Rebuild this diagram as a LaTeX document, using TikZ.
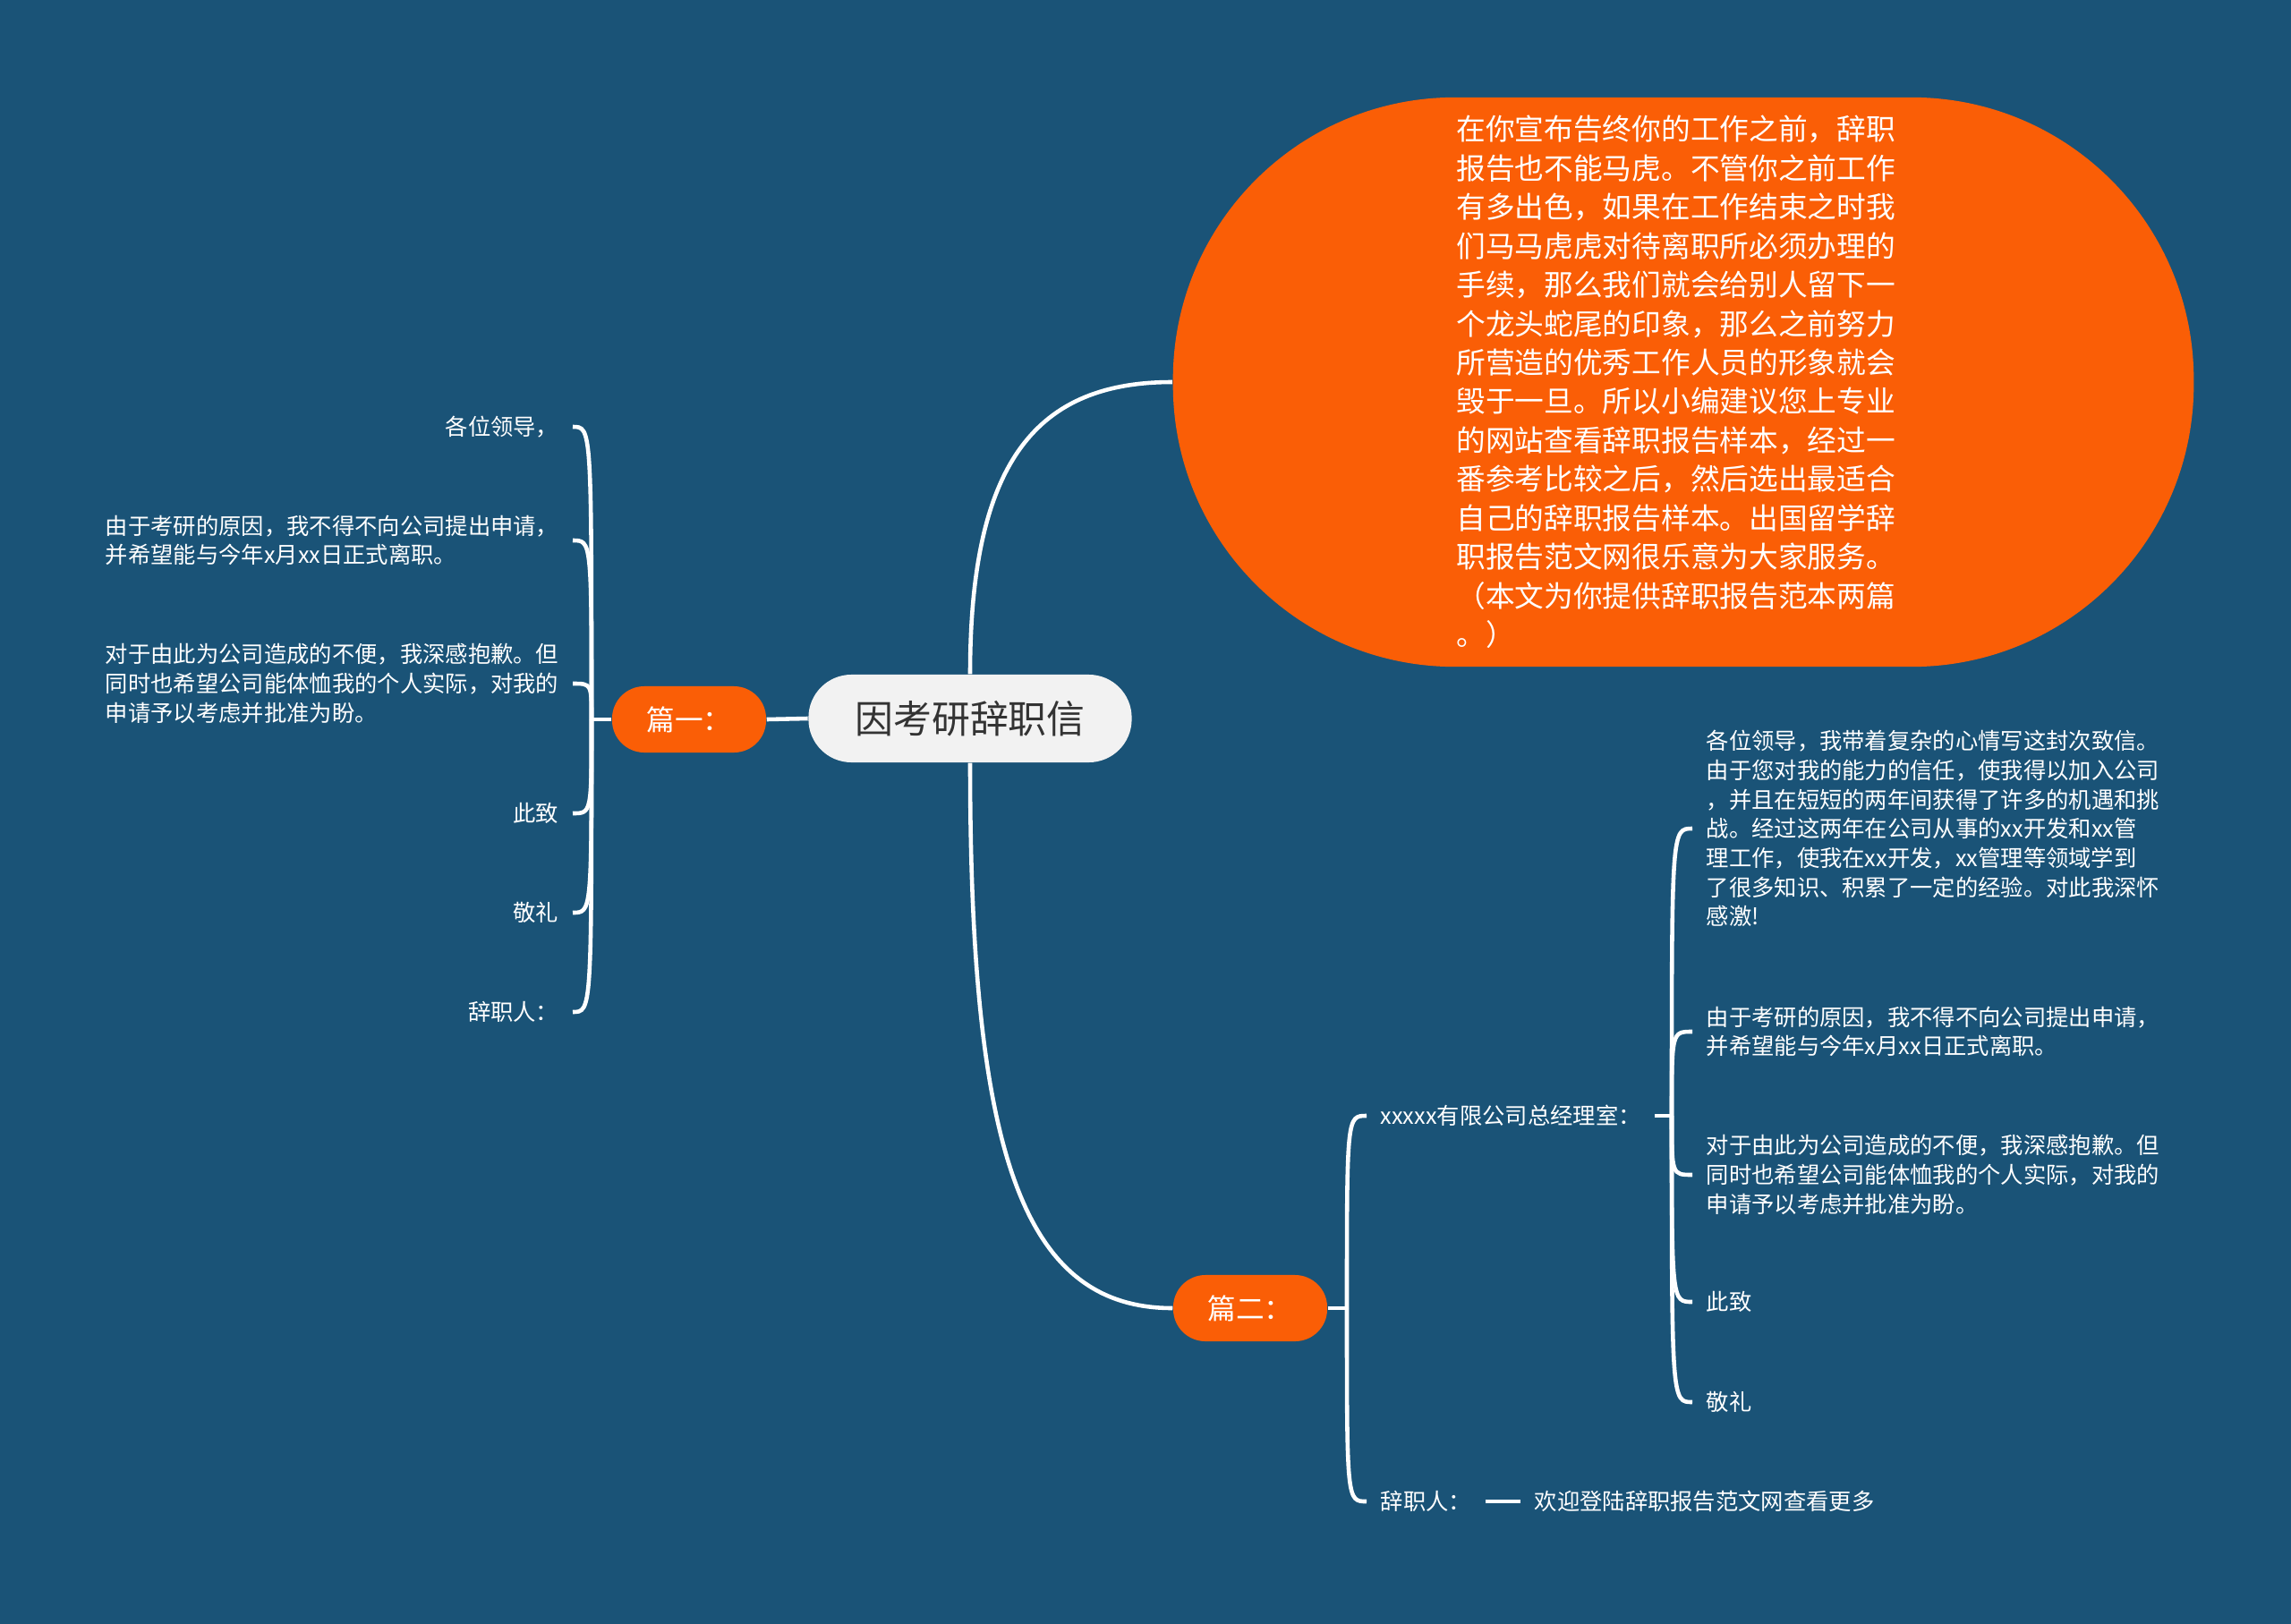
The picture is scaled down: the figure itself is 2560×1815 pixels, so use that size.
\documentclass[tikz,border=0pt]{standalone}
\usepackage{fontspec}
\setmainfont{Noto Sans CJK SC}
\usepackage{tikz}
\usetikzlibrary{calc}
\definecolor{map-bg}{RGB}{26,83,119}
\definecolor{map-orange}{RGB}{250,94,6}
\definecolor{map-gray}{RGB}{242,242,242}
\definecolor{map-ink}{RGB}{51,51,51}

\begin{document}
\begin{tikzpicture}[x=0.01cm, y=-0.01cm,
  link/.style={white, line width=1.3pt},
  rootbox/.style={fill=map-gray, text=map-ink, rounded corners=0.48cm,
    minimum width=3.61cm, minimum height=0.98cm, font=\fontsize{12.2}{14}\selectfont},
  partbox/.style={fill=map-orange, text=white, rounded corners=0.36cm,
    minimum width=1.72cm, minimum height=0.74cm, font=\fontsize{9}{11}\selectfont},
  bubble/.style={fill=map-orange, text=white, rounded corners=3.15cm,
    minimum width=11.4cm, minimum height=6.36cm, align=left, text width=5.07cm,
    font=\fontsize{9.3}{12.35}\selectfont},
  leaf/.style={text=white, align=left, inner xsep=0.15cm, inner ysep=0.05cm,
    font=\fontsize{7.2}{9.3}\selectfont}]
  % background
  \fill[map-bg] (0,0) rectangle (2560,1815);

  % root and parts
  \node[rootbox] (root) at (1084,803) {因考研辞职信};
  \node[partbox] (p1) at (770,804) {篇一：};
  \node[partbox] (p2) at (1397,1462) {篇二：};

  % intro bubble
  \node[bubble] (note) at (1881,427) {在你宣布告终你的工作之前，辞职\\报告也不能马虎。不管你之前工作\\有多出色，如果在工作结束之时我\\们马马虎虎对待离职所必须办理的\\手续，那么我们就会给别人留下一\\个龙头蛇尾的印象，那么之前努力\\所营造的优秀工作人员的形象就会\\毁于一旦。所以小编建议您上专业\\的网站查看辞职报告样本，经过一\\番参考比较之后，然后选出最适合\\自己的辞职报告样本。出国留学辞\\职报告范文网很乐意为大家服务。\\（本文为你提供辞职报告范本两篇\\。）};

  % main connectors
  \draw[link] (root.north) .. controls +(0,-240) and +(-150,0) .. (note.west);
  \draw[link] (root.south) .. controls +(0,430) and +(-170,0) .. (p2.west);
  \draw[link] (root.west) -- (p1.east);

  % part one leaves
  \node[leaf, anchor=east] (a1) at (640,477) {各位领导，};
  \node[leaf, anchor=east] (a2) at (640,604) {由于考研的原因，我不得不向公司提出申请，\\并希望能与今年x月xx日正式离职。};
  \node[leaf, anchor=east] (a3) at (640,764) {对于由此为公司造成的不便，我深感抱歉。但\\同时也希望公司能体恤我的个人实际，对我的\\申请予以考虑并批准为盼。};
  \node[leaf, anchor=east] (a4) at (640,909) {此致};
  \node[leaf, anchor=east] (a5) at (640,1020) {敬礼};
  \node[leaf, anchor=east] (a6) at (640,1131) {辞职人：};

  \coordinate (j1) at (661,804);
  \draw[link] (p1.west) -- (j1);
  \foreach \leaf in {a1,a2,a3,a4,a5,a6}
    \draw[link] (j1) .. controls (j1 |- \leaf.east) and (j1 |- \leaf.east) .. (\leaf.east);

  % part two leaves
  \node[leaf, anchor=west] (b1) at (1527,1247) {xxxxx有限公司总经理室：};
  \node[leaf, anchor=west] (b2) at (1527,1678) {辞职人：};
  \node[leaf, anchor=west] (b3) at (1699,1678) {欢迎登陆辞职报告范文网查看更多};

  \coordinate (j2) at (1505,1462);
  \draw[link] (p2.east) -- (j2);
  \foreach \leaf in {b1,b2}
    \draw[link] (j2) .. controls (j2 |- \leaf.west) and (j2 |- \leaf.west) .. (\leaf.west);
  \draw[link] (b2.east) -- (b3.west);

  % letter body under b1
  \node[leaf, anchor=west] (c1) at (1891,926) {各位领导，我带着复杂的心情写这封次致信。\\由于您对我的能力的信任，使我得以加入公司\\，并且在短短的两年间获得了许多的机遇和挑\\战。经过这两年在公司从事的xx开发和xx管\\理工作，使我在xx开发，xx管理等领域学到\\了很多知识、积累了一定的经验。对此我深怀\\感激!};
  \node[leaf, anchor=west] (c2) at (1891,1153) {由于考研的原因，我不得不向公司提出申请，\\并希望能与今年x月xx日正式离职。};
  \node[leaf, anchor=west] (c3) at (1891,1313) {对于由此为公司造成的不便，我深感抱歉。但\\同时也希望公司能体恤我的个人实际，对我的\\申请予以考虑并批准为盼。};
  \node[leaf, anchor=west] (c4) at (1891,1455) {此致};
  \node[leaf, anchor=west] (c5) at (1891,1567) {敬礼};

  \coordinate (j3) at (1868,1247);
  \draw[link] (b1.east) -- (j3);
  \foreach \leaf in {c1,c2,c3,c4,c5}
    \draw[link] (j3) .. controls (j3 |- \leaf.west) and (j3 |- \leaf.west) .. (\leaf.west);
\end{tikzpicture}
\end{document}
